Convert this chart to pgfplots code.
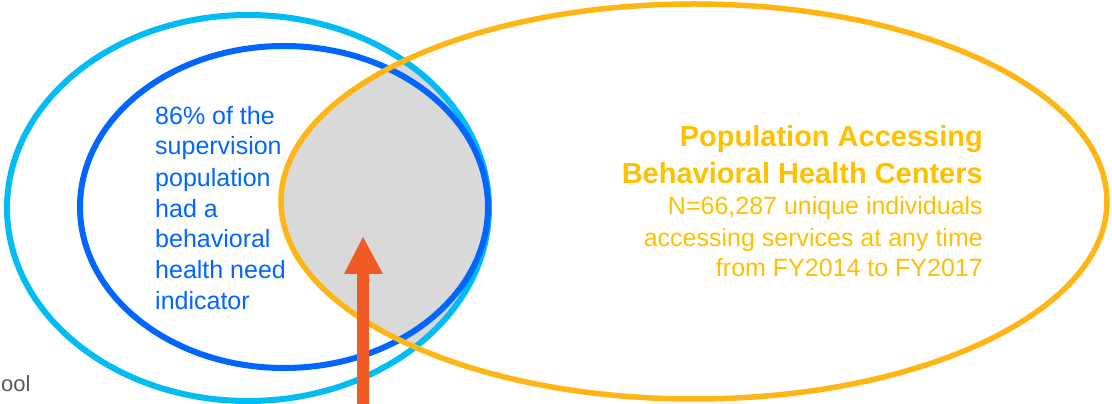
\documentclass[border=0pt]{standalone}
\usepackage{pgfplots}
\pgfplotsset{compat=1.18}
\usepackage{fontspec}
\setmainfont{Liberation Sans}
\definecolor{lightblue}{HTML}{00BCF5}
\definecolor{darkblue}{HTML}{0066FF}
\definecolor{orangeell}{HTML}{FFB615}
\definecolor{yellowtxt}{HTML}{FFC000}
\definecolor{grayfill}{HTML}{D9D9D9}
\definecolor{arrowc}{HTML}{F05A24}
\definecolor{graytxt}{HTML}{595959}
\begin{document}
\begin{tikzpicture}
\begin{axis}[x=1pt,y=1pt,xmin=0,xmax=1112,ymin=0,ymax=404,hide axis,clip=true]
\coordinate (BL) at (axis cs:0,0);
\coordinate (TR) at (axis cs:1112,404);
% intersection fill
\begin{scope}
\clip (axis cs:694,202.5) ellipse [x radius=413, y radius=197.5];
\fill[grayfill] (axis cs:248,196) ellipse [x radius=241, y radius=193];
\end{scope}
% ellipses
\draw[lightblue, line width=6pt] (axis cs:248,196) ellipse [x radius=241, y radius=193];
\draw[darkblue, line width=6pt] (axis cs:284,197) ellipse [x radius=204, y radius=161];
\draw[orangeell, line width=5.5pt] (axis cs:694,202.5) ellipse [x radius=413, y radius=197.5];
% arrow
\fill[arrowc] (axis cs:357,-2) -- (axis cs:357,130) -- (axis cs:344,130) -- (axis cs:363,167) -- (axis cs:383,130) -- (axis cs:369,130) -- (axis cs:369,-2) -- cycle;
% blue text
\begin{scope}[every node/.style={anchor=base west, inner sep=0pt, text=darkblue, font=\fontsize{25}{30}\selectfont}]
\node at (axis cs:155,279) {86\% of the};
\node at (axis cs:155,249) {supervision};
\node at (axis cs:155,217.5) {population};
\node at (axis cs:155,186.5) {had a};
\node at (axis cs:155,156) {behavioral};
\node at (axis cs:155,125) {health need};
\node at (axis cs:155,94) {indicator};
\end{scope}
% yellow text
\begin{scope}[every node/.style={anchor=base east, inner sep=0pt, text=yellowtxt}]
\node[font=\fontsize{29}{35}\selectfont\bfseries] at (axis cs:983,257) {Population Accessing};
\node[font=\fontsize{29}{35}\selectfont\bfseries] at (axis cs:983,220) {Behavioral Health Centers};
\node[font=\fontsize{25}{30}\selectfont] at (axis cs:983,189) {N=66,287 unique individuals};
\node[font=\fontsize{25}{30}\selectfont] at (axis cs:983,157.5) {accessing services at any time};
\node[font=\fontsize{25}{30}\selectfont] at (axis cs:983,127.5) {from FY2014 to FY2017};
\end{scope}
% partial text at lower left
\node[anchor=base west, inner sep=0pt, text=graytxt, font=\fontsize{22}{26}\selectfont] at (axis cs:1,12) {ool};
\end{axis}
\pgfresetboundingbox
\useasboundingbox (BL) rectangle (TR);
\end{tikzpicture}
\end{document}
